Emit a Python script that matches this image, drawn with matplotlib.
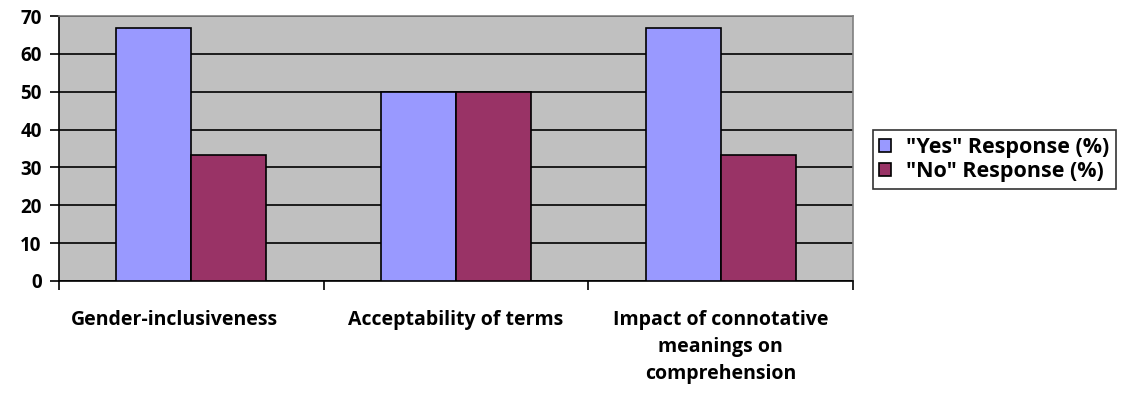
import matplotlib
matplotlib.use("Agg")
import matplotlib.pyplot as plt
import matplotlib.transforms as mtransforms
import numpy as np

categories = ["Gender-inclusiveness", "Acceptability of terms",
              "Impact of connotative\nmeanings on\ncomprehension"]
yes_pct = [66.7, 50, 66.7]
no_pct = [33.3, 50, 33.3]
series_names = ['"Yes" Response (%)', '"No" Response (%)']
y_ticks = [0, 10, 20, 30, 40, 50, 60, 70]

plt.rcParams['font.family'] = ['Open Sans', 'DejaVu Sans']
plt.rcParams['font.weight'] = 'bold'

fig = plt.figure(figsize=(11.21, 4.03), dpi=100)
ax = fig.add_axes([59 / 1121, 1 - 281 / 403, (853 - 59) / 1121, (281 - 16) / 403])
ax.set_facecolor("#C0C0C0")

x = np.arange(len(categories))
w = 0.284
ax.bar(x - w / 2, yes_pct, w, color="#9999FF", edgecolor="black", linewidth=1.2,
       label=series_names[0], zorder=3)
ax.bar(x + w / 2, no_pct, w, color="#993366", edgecolor="black", linewidth=1.2,
       label=series_names[1], zorder=3)

ax.set_xlim(-0.5, len(categories) - 0.5)
ax.set_ylim(0, 70)
ax.set_yticks(y_ticks)
ax.yaxis.grid(True, color="black", linewidth=1.2, zorder=1)
ax.set_axisbelow(True)

ax.set_xticks(np.arange(-0.5, len(categories), 1.0))
ax.set_xticklabels([])
ax.set_xticks(x, minor=True)
ax.set_xticklabels(categories, minor=True, fontsize=14, fontweight="bold",
                   linespacing=1.45, va="top")
ax.tick_params(axis="x", which="minor", length=0, pad=21)
ax.tick_params(axis="x", which="major", length=6.5, width=1.2, direction="out")
ax.tick_params(axis="y", length=6.5, width=1.2, direction="out", labelsize=13.5, pad=6)
for lbl in ax.get_yticklabels():
    lbl.set_fontweight("bold")

# the first category label sits a little left of its slot
first = ax.xaxis.get_minorticklabels()[0]
first.set_transform(first.get_transform() +
                    mtransforms.ScaledTranslation(-17 / 100, 0, fig.dpi_scale_trans))

for s in ["left", "bottom"]:
    ax.spines[s].set_color("black")
    ax.spines[s].set_linewidth(1.2)
for s in ["top", "right"]:
    ax.spines[s].set_color("#808080")
    ax.spines[s].set_linewidth(1.2)

leg = fig.legend(loc="center left", bbox_to_anchor=(873 / 1121, 1 - 159.5 / 403),
                 frameon=True, fancybox=False, edgecolor="black",
                 fontsize=15.5, handlelength=0.55, handleheight=0.55,
                 handletextpad=0.7, labelspacing=0.15, borderpad=0.3,
                 borderaxespad=0)
leg.get_frame().set_linewidth(1.2)
for t in leg.get_texts():
    t.set_fontweight("bold")

fig.savefig("out.png", dpi=100)
